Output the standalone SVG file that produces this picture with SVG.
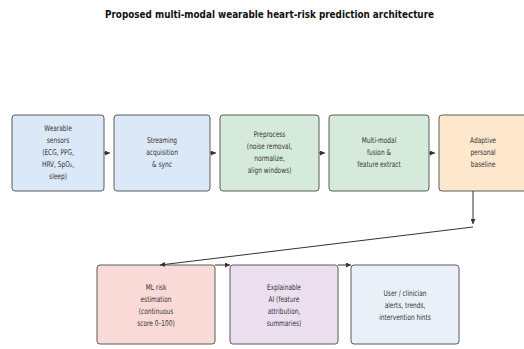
<svg xmlns="http://www.w3.org/2000/svg" width="524" height="349" viewBox="0 0 524 349">
<style>
.box{stroke:#5a5a5a;stroke-width:1}
.t{font-family:"DejaVu Sans","Liberation Sans",sans-serif;font-size:8px;fill:#333;text-anchor:middle}
.title{font-family:"DejaVu Sans","Liberation Sans",sans-serif;font-size:10.5px;font-weight:bold;fill:#111}
.c{fill:none;stroke:#333;stroke-width:1}
.blue{fill:#dbe8f7}.green{fill:#d6eadb}.orange{fill:#fde8cd}.pink{fill:#fadad7}.purple{fill:#ebdff0}.grey{fill:#eaf0f8}
</style>
<defs>
<marker id="ah" viewBox="0 0 10 10" refX="10" refY="5" markerWidth="5" markerHeight="5" markerUnits="userSpaceOnUse" orient="auto">
<path d="M0,0 L10,5 L0,10 z" fill="#333"/>
</marker>
</defs>
<rect width="524" height="349" fill="#ffffff"/>
<text class="title" x="105" y="18" textLength="329" lengthAdjust="spacingAndGlyphs">Proposed multi-modal wearable heart-risk prediction architecture</text>

<g id="n1">
<rect class="box blue" x="12" y="115" width="92" height="76" rx="3"/>
<g transform="translate(58 0) scale(0.73 1)"><text class="t"><tspan x="0" y="130.6">Wearable</tspan><tspan x="0" y="142.8">sensors</tspan><tspan x="0" y="155">(ECG, PPG,</tspan><tspan x="0" y="167.2">HRV, SpO₂,</tspan><tspan x="0" y="179.4">sleep)</tspan></text></g>
</g>
<g id="n2">
<rect class="box blue" x="114" y="115" width="96" height="76" rx="3"/>
<g transform="translate(162 0) scale(0.73 1)"><text class="t"><tspan x="0" y="142.8">Streaming</tspan><tspan x="0" y="155">acquisition</tspan><tspan x="0" y="167.2">&amp; sync</tspan></text></g>
</g>
<g id="n3">
<rect class="box green" x="220" y="115" width="99" height="76" rx="3"/>
<g transform="translate(269.5 0) scale(0.73 1)"><text class="t"><tspan x="0" y="136.7">Preprocess</tspan><tspan x="0" y="148.9">(noise removal,</tspan><tspan x="0" y="161.1">normalize,</tspan><tspan x="0" y="173.3">align windows)</tspan></text></g>
</g>
<g id="n4">
<rect class="box green" x="329" y="115" width="100" height="76" rx="3"/>
<g transform="translate(379 0) scale(0.73 1)"><text class="t"><tspan x="0" y="142.8">Multi-modal</tspan><tspan x="0" y="155">fusion &amp;</tspan><tspan x="0" y="167.2">feature extract</tspan></text></g>
</g>
<g id="n5">
<rect class="box orange" x="439" y="115" width="89" height="76" rx="3"/>
<g transform="translate(483 0) scale(0.73 1)"><text class="t"><tspan x="0" y="142.8">Adaptive</tspan><tspan x="0" y="155">personal</tspan><tspan x="0" y="167.2">baseline</tspan></text></g>
</g>
<g id="n6">
<rect class="box pink" x="97" y="265" width="118" height="79" rx="3"/>
<g transform="translate(156 0) scale(0.73 1)"><text class="t"><tspan x="0" y="289.7">ML risk</tspan><tspan x="0" y="301.9">estimation</tspan><tspan x="0" y="314.1">(continuous</tspan><tspan x="0" y="326.3">score 0–100)</tspan></text></g>
</g>
<g id="n7">
<rect class="box purple" x="230" y="265" width="108" height="79" rx="3"/>
<g transform="translate(284 0) scale(0.73 1)"><text class="t"><tspan x="0" y="289.7">Explainable</tspan><tspan x="0" y="301.9">AI (feature</tspan><tspan x="0" y="314.1">attribution,</tspan><tspan x="0" y="326.3">summaries)</tspan></text></g>
</g>
<g id="n8">
<rect class="box grey" x="351" y="265" width="108" height="79" rx="3"/>
<g transform="translate(405 0) scale(0.73 1)"><text class="t"><tspan x="0" y="295.8">User / clinician</tspan><tspan x="0" y="308">alerts, trends,</tspan><tspan x="0" y="320.2">intervention hints</tspan></text></g>
</g>

<g id="connectors">
<path class="c" d="M104,153 L110,153" marker-end="url(#ah)"/>
<path class="c" d="M210,153 L216,153" marker-end="url(#ah)"/>
<path class="c" d="M319,153 L325,153" marker-end="url(#ah)"/>
<path class="c" d="M429,153 L435,153" marker-end="url(#ah)"/>
<path class="c" d="M473,191 L473,224" marker-end="url(#ah)"/>
<path class="c" d="M473,227 L160,265" marker-end="url(#ah)"/>
<path class="c" d="M215,265 L230,265" marker-end="url(#ah)"/>
<path class="c" d="M338,265 L351,265" marker-end="url(#ah)"/>
</g>
</svg>
